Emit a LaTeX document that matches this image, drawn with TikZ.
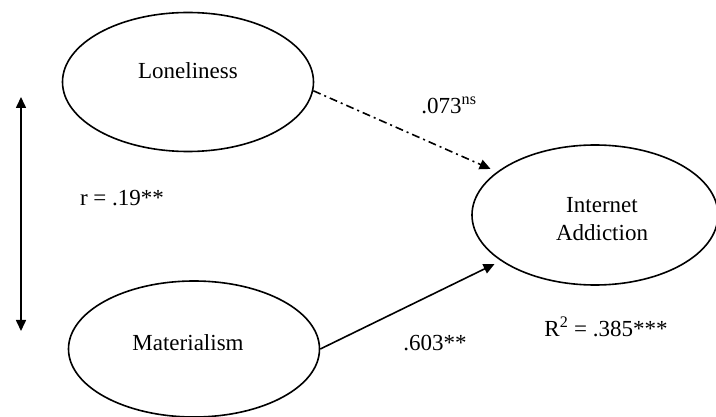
\documentclass[tikz,border=0pt]{standalone}
\usepackage{fontspec}
\setmainfont{Liberation Serif}
\usetikzlibrary{arrows.meta,shapes.geometric}
\begin{document}
\begin{tikzpicture}[x=1pt,y=-1pt,
  every node/.style={font=\fontsize{23}{28}\selectfont},
  construct/.style={ellipse,draw,line width=1.6pt,inner sep=0pt},
  lbl/.style={inner sep=0pt,align=center},
  arr/.style={line width=1.6pt,-{Triangle[length=11pt,width=10pt]}},
  dashdot/.style={dash pattern=on 8pt off 4pt on 2pt off 4pt}]
\useasboundingbox (0,0) rectangle (716,417);
\node[construct,minimum width=251pt,minimum height=139pt] (lon) at (188,82) {};
\node[construct,minimum width=251pt,minimum height=136pt] (mat) at (194,349) {};
\node[construct,minimum width=246pt,minimum height=140pt] (ia) at (595,215) {};
\node[lbl] (lont) at (188,71) {Loneliness};
\node[lbl] (matt) at (188,343) {Materialism};
\node[lbl] (iat) at (602,219) {Internet\\Addiction};
\coordinate (ctop) at (21,97);
\coordinate (cbot) at (21,331);
\draw[line width=1.6pt,{Triangle[length=11pt,width=10pt]}-{Triangle[length=11pt,width=10pt]}] (ctop) -- (cbot);
\node[lbl] (rlab) at (122,198) {r = .19**};
\draw[arr,dashdot,shorten >=7pt] (lon.-4) -- (ia);
\draw[arr,shorten >=7pt] (mat.east) -- (ia);
\node[lbl] (b1) at (449,105) {.073\textsuperscript{ns}};
\node[lbl] (b2) at (435,343) {.603**};
\node[lbl] (r2) at (606,327) {R\textsuperscript{2} = .385***};
\end{tikzpicture}
\end{document}
